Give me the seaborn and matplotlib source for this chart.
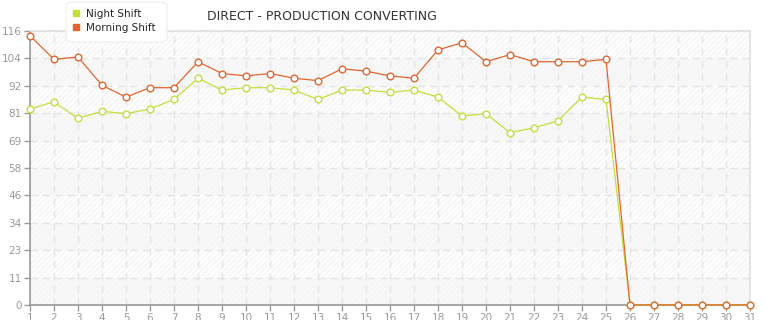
import matplotlib
matplotlib.use("Agg")
import matplotlib.pyplot as plt
import seaborn as sns
import pandas as pd
import numpy as np
from matplotlib.lines import Line2D
from matplotlib.patches import FancyBboxPatch

days = list(range(1, 32))
night_shift = [83, 86, 79, 82, 81, 83, 87, 96, 91, 92, 92, 91, 87, 91, 91, 90, 91, 88,
               80, 81, 73, 75, 78, 88, 87, 0, 0, 0, 0, 0, 0]
morning_shift = [114, 104, 105, 93, 88, 92, 92, 103, 98, 97, 98, 96, 95, 100, 99, 97, 96,
                 108, 111, 103, 106, 103, 103, 103, 104, 0, 0, 0, 0, 0, 0]
y_ticks = [0, 11.6, 23.2, 34.8, 46.4, 58.0, 69.6, 81.2, 92.8, 104.4, 116.0]
y_labels = ["0", "11", "23", "34", "46", "58", "69", "81", "92", "104", "116"]
title = "DIRECT - PRODUCTION CONVERTING"
night_color = "#c4df3a"
morning_color = "#e2652f"

sns.set_theme(style="white")
plt.rcParams["font.family"] = ["DejaVu Sans"]
plt.rcParams["hatch.linewidth"] = 0.5

fig = plt.figure(figsize=(7.65, 3.2), dpi=100)
ax = fig.add_axes([30 / 765, 15 / 320, 720 / 765, 274 / 320])

# background bands
for i in range(len(y_ticks) - 1):
    lo, hi = y_ticks[i], y_ticks[i + 1]
    if i % 2 == 0:
        ax.axhspan(lo, hi, facecolor="#f8f8f8", edgecolor="#f2f2f2", hatch="//////", lw=0, zorder=0)
    else:
        ax.axhspan(lo, hi, facecolor="#fdfdfd", edgecolor="#efefef", hatch="//////", lw=0, zorder=0)

df = pd.DataFrame({
    "day": days * 2,
    "value": night_shift + morning_shift,
    "shift": ["Night Shift"] * 31 + ["Morning Shift"] * 31,
})

sns.lineplot(data=df, x="day", y="value", hue="shift",
             palette={"Night Shift": night_color, "Morning Shift": morning_color},
             marker="o", markersize=4.8, markerfacecolor="white", markeredgewidth=1.0,
             linewidth=0.9, legend=False, ax=ax, zorder=5)
for line, c in zip(ax.get_lines(), [night_color, morning_color]):
    line.set_markeredgecolor(c)
    line.set_clip_on(False)

ax.set_xlim(1, 31)
ax.set_ylim(0, 116)
ax.set_xticks(days)
ax.set_xticklabels([str(d) for d in days])
ax.set_yticks(y_ticks)
ax.set_yticklabels(y_labels)
ax.set_xlabel("")
ax.set_ylabel("")

ax.grid(True, axis="both", color="#e4e4e4", linestyle=(0, (5, 4)), linewidth=1.0, zorder=1)
ax.set_axisbelow(True)

for s in ["top", "right"]:
    ax.spines[s].set_color("#e0e0e0")
    ax.spines[s].set_linewidth(1.2)
for s in ["left", "bottom"]:
    ax.spines[s].set_color("#999999")
    ax.spines[s].set_linewidth(1.2)

ax.tick_params(axis="both", which="both", direction="out", length=4, width=1,
               color="#999999", labelcolor="#999999", labelsize=7.5, pad=2,
               left=True, bottom=True)

fig.text(322 / 765, 1 - 17 / 320, title, ha="center", va="center", fontsize=9, color="#333333")

# legend box
box = FancyBboxPatch((66 / 765, 1 - 42 / 320), 101 / 765, 40 / 320,
                     boxstyle="round,pad=0,rounding_size=0.012", transform=fig.transFigure,
                     facecolor="white", edgecolor="#eeeeee", linewidth=0.8, zorder=10)
fig.patches.append(box)
handles = [Line2D([], [], marker="s", linestyle="none", markersize=4.5, color=night_color),
           Line2D([], [], marker="s", linestyle="none", markersize=4.5, color=morning_color)]
leg = fig.legend(handles, ["Night Shift", "Morning Shift"], loc="upper left",
                 bbox_to_anchor=(71 / 765, 1 - 9 / 320), frameon=False, fontsize=7.5,
                 handletextpad=0.4, labelspacing=0.35, borderpad=0, handlelength=1.0,
                 borderaxespad=0)
leg.set_zorder(11)

fig.savefig("out.png", dpi=100)
